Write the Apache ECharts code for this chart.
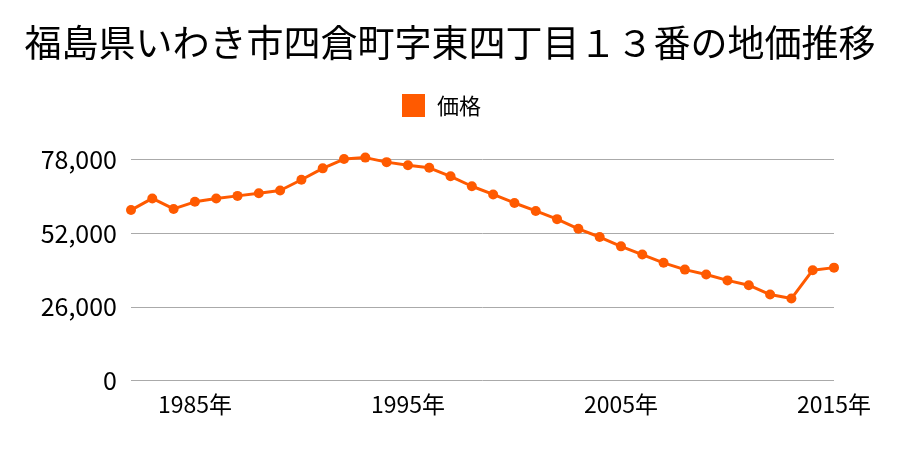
<!DOCTYPE html>
<html>
<head>
<meta charset="utf-8">
<script src="https://cdn.jsdelivr.net/npm/echarts@6/dist/echarts.min.js"></script>
<style>html,body{margin:0;padding:0;background:#fff}#c{width:900px;height:450px}</style>
</head>
<body>
<div id="c"></div>
<script>
const titleText = '福島県いわき市四倉町字東四丁目１３番の地価推移';
const seriesName = '価格';
const years = ['1982','1983','1984','1985','1986','1987','1988','1989','1990','1991','1992','1993','1994','1995','1996','1997','1998','1999','2000','2001','2002','2003','2004','2005','2006','2007','2008','2009','2010','2011','2012','2013','2014','2015'];
const prices = [60100,64200,60500,63000,64200,65100,66000,67000,70800,74800,78100,78600,77000,75900,75000,72000,68500,65600,62600,59800,56900,53500,50600,47300,44400,41500,39100,37400,35300,33600,30300,28900,38900,39800];
const yTicks = [0,26000,52000,78000];

const font = '"Noto Sans CJK JP","Noto Sans",sans-serif';
const chart = echarts.init(document.getElementById('c'), null, {renderer:'canvas'});
chart.setOption({
  animation:false,
  title:{text:titleText,left:'center',top:19,textStyle:{fontFamily:font,fontSize:37,fontWeight:'normal',color:'#000'}},
  legend:{data:[seriesName],top:89,left:397,itemWidth:23,itemHeight:23,icon:'rect',
    textStyle:{fontFamily:font,fontSize:22,color:'#000',padding:[0,0,0,7]}},
  grid:{left:131,right:66,top:159.3,bottom:69.5,containLabel:false},
  xAxis:{type:'category',data:years,boundaryGap:false,
    axisLine:{show:false},axisTick:{show:false},
    axisLabel:{fontFamily:font,fontSize:23,color:'#000',margin:12,
      interval:function(i,v){return (parseInt(v)-1985)%10===0;},
      formatter:function(v){return v+'年';}},
    splitLine:{show:false}},
  yAxis:{type:'value',min:yTicks[0],max:yTicks[yTicks.length-1],interval:26000,
    axisLine:{show:false},axisTick:{show:false},
    axisLabel:{fontFamily:font,fontSize:25,color:'#000',margin:14,
      formatter:function(v){return v.toLocaleString('en-US');}},
    splitLine:{lineStyle:{color:'#aaaaaa',width:1}}},
  series:[{name:seriesName,type:'line',data:prices,clip:false,
    symbol:'circle',symbolSize:10,
    lineStyle:{color:'#ff5a00',width:3},
    itemStyle:{color:'#ff5a00'}}]
});
</script>
</body>
</html>
